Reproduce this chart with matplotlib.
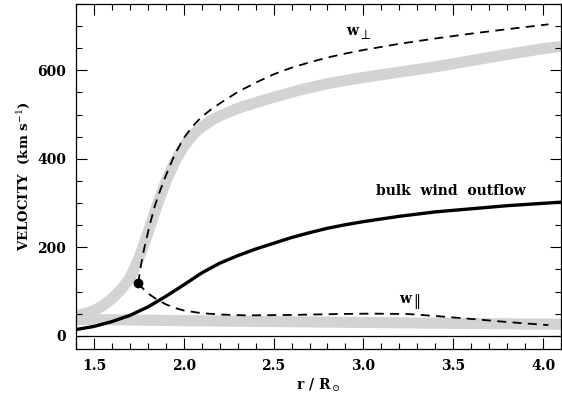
import matplotlib
matplotlib.use("Agg")
import matplotlib.pyplot as plt
from matplotlib.ticker import MultipleLocator

# ---- data ----
r_perp_model = [1.40, 1.45, 1.50, 1.55, 1.60, 1.65, 1.70, 1.75, 1.80, 1.85, 1.90, 1.95, 2.00, 2.05, 2.10, 2.15,
                2.20, 2.30, 2.40, 2.50, 2.65, 2.80, 3.00, 3.20, 3.40, 3.60, 3.80, 4.00, 4.10]
v_perp_model = [45, 50, 57, 68, 84, 104, 130, 175, 232, 293, 348, 393, 428, 454, 472, 486,
                497, 514, 527, 539, 556, 570, 584, 596, 608, 622, 636, 649, 654]

r_par_model = [1.40, 2.00, 2.50, 3.00, 3.50, 4.10]
v_par_model = [37, 34, 32, 30, 28, 26]

r_wperp = [1.745, 1.750, 1.755, 1.760, 1.765, 1.772, 1.78, 1.79, 1.81, 1.84, 1.87, 1.90, 1.95, 2.00, 2.05, 2.10,
           2.15, 2.20, 2.30, 2.40, 2.50, 2.60, 2.70, 2.80, 2.90, 3.00, 3.20, 3.40, 3.60, 3.80, 4.03]
v_wperp = [119, 130, 142, 155, 167, 182, 198, 215, 250, 295, 330, 362, 410, 447, 474, 495,
           511, 525, 551, 572, 591, 606, 618, 629, 638, 646, 660, 672, 683, 693, 704]

r_wpar = [1.745, 1.77, 1.80, 1.85, 1.90, 1.95, 2.00, 2.10, 2.20, 2.35, 2.60, 2.85, 3.05, 3.25, 3.42, 3.60, 3.80, 4.03]
v_wpar = [119, 108, 96, 82, 71, 63, 57, 51, 48, 46, 47, 49, 50, 49, 44, 38, 31, 24]

r_bulk = [1.40, 1.50, 1.60, 1.70, 1.80, 1.90, 2.00, 2.10, 2.20, 2.30, 2.40, 2.50, 2.60, 2.70, 2.80, 2.90,
          3.00, 3.20, 3.40, 3.60, 3.80, 4.10]
v_bulk = [14, 21, 32, 46, 65, 89, 115, 142, 164, 181, 196, 209, 222, 233, 243, 251,
          258, 270, 280, 287, 294, 302]

dot_r = [1.745]
dot_v = [119]

xticks = [1.5, 2.0, 2.5, 3.0, 3.5, 4.0]
yticks = [0, 200, 400, 600]

plt.rcParams['font.family'] = ['DejaVu Serif']
plt.rcParams['mathtext.fontset'] = 'dejavuserif'

fig = plt.figure(figsize=(5.62, 3.96), dpi=100)
ax = fig.add_axes([76/562, 1-349/396, 485/562, 345/396])

gray = '#d3d3d3'
ax.plot(r_par_model, v_par_model, color=gray, lw=8, solid_capstyle='butt', solid_joinstyle='round', zorder=1)
ax.plot(r_perp_model, v_perp_model, color=gray, lw=8, solid_capstyle='butt', solid_joinstyle='round', zorder=1)
ax.axhline(0, color='black', lw=0.9, zorder=2)
ax.plot(r_wperp, v_wperp, color='black', lw=1.3, ls=(0, (5, 3.5)), zorder=3)
ax.plot(r_wpar, v_wpar, color='black', lw=1.3, ls=(0, (5, 3.5)), zorder=3)
ax.plot(r_bulk, v_bulk, color='black', lw=2.4, solid_joinstyle='round', zorder=4)
ax.plot(dot_r, dot_v, 'o', color='black', ms=6, zorder=5)

ax.set_xlim(1.4, 4.1)
ax.set_ylim(-30, 750)
ax.set_xticks(xticks)
ax.set_yticks(yticks)
ax.xaxis.set_minor_locator(MultipleLocator(0.1))
ax.yaxis.set_minor_locator(MultipleLocator(50))
ax.tick_params(which='both', direction='in', top=True, right=True, width=0.8)
ax.tick_params(which='major', length=8, labelsize=10, pad=7)
ax.tick_params(which='minor', length=4)
for lab in ax.get_xticklabels() + ax.get_yticklabels():
    lab.set_fontweight('bold')
for s in ax.spines.values():
    s.set_linewidth(0.9)

ax.set_xlabel(r'r / R$_\odot$', fontsize=10, fontweight='bold', labelpad=3)
ax.set_ylabel(r'VELOCITY  (km s$^{-1}$)', fontsize=9.5, fontweight='bold', labelpad=4)

# line labels
ax.text(2.905, 681, 'w', fontsize=10, fontweight='bold', ha='left', va='baseline')
ax.text(2.971, 663, r'$\perp$', fontsize=10, ha='left', va='bottom')
ax.text(3.200, 73, 'w', fontsize=10, fontweight='bold', ha='left', va='baseline')
ax.text(3.278, 57, r'$\|$', fontsize=10, ha='left', va='bottom')
ax.text(3.069, 319, 'bulk  wind  outflow', fontsize=10, fontweight='bold', ha='left', va='baseline')

fig.savefig('out.png', dpi=100)
